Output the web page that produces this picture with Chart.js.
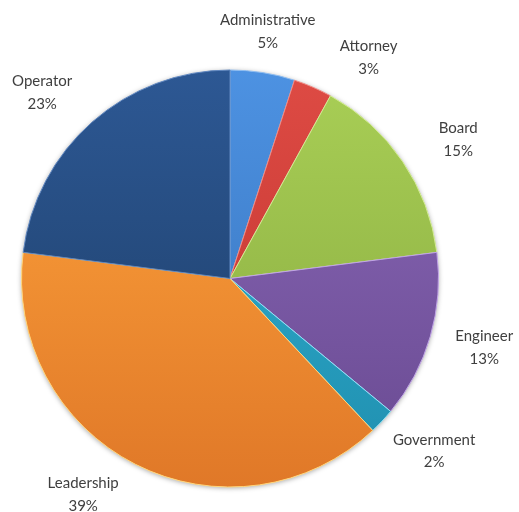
<!DOCTYPE html>
<html>
<head>
<meta charset="utf-8">
<script src="https://cdn.jsdelivr.net/npm/chart.js@4/dist/chart.umd.min.js"></script>
<style>
  html, body { margin: 0; padding: 0; background: #ffffff; }
  #wrap { width: 519px; height: 512px; }
</style>
</head>
<body>
<div id="wrap"><canvas id="c" width="519" height="512"></canvas></div>
<script>
// Share of respondents by role
const categories = ['Administrative', 'Attorney', 'Board', 'Engineer', 'Government', 'Leadership', 'Operator'];
const shares = [5, 3, 15, 13, 2, 39, 23];

// Slice shading: lighter at the top of the pie, darker toward the bottom
const topColors    = ['#4d92e2', '#de4b44', '#a9cf56', '#8b69b9', '#33b4d6', '#ffa63d', '#2d5894'];
const bottomColors = ['#3570b8', '#bd312d', '#86a83e', '#684990', '#1f8eae', '#e07828', '#1c3c64'];
const edgeColors   = ['#8fbdf0', '#f08a84', '#d3ec95', '#c0a4e6', '#8fe2f5', '#ffd57a', '#5f86bf'];

// Per-label placement tweaks: [angle shift in degrees, gap beyond the rim in px]
const labelTweaks = [[-0.3, 15], [8.7, 21], [2.9, 32], [-1, 22], [-3, 15], [7.2, 17], [-3.9, 21]];

function sliceFill(ctx) {
  const chart = ctx.chart;
  const area = chart.chartArea;
  const i = ctx.dataIndex;
  if (!area) return topColors[i];
  const g = chart.ctx.createLinearGradient(0, area.top, 0, area.bottom);
  g.addColorStop(0, topColors[i]);
  g.addColorStop(1, bottomColors[i]);
  return g;
}

// Soft drop shadow under the whole pie
const pieShadow = {
  id: 'pieShadow',
  beforeDatasetsDraw(chart) {
    const arcs = chart.getDatasetMeta(0).data;
    if (!arcs.length) return;
    const a = arcs[0];
    const c = chart.ctx;
    c.save();
    c.shadowColor = 'rgba(0,0,0,0.35)';
    c.shadowBlur = 5;
    c.shadowOffsetX = 0;
    c.shadowOffsetY = 1;
    c.fillStyle = '#ffffff';
    c.beginPath();
    c.arc(a.x, a.y, a.outerRadius, 0, Math.PI * 2);
    c.fill();
    c.restore();
  }
};

// Category name and percentage outside each slice
const outsideLabels = {
  id: 'outsideLabels',
  afterDatasetsDraw(chart) {
    const c = chart.ctx;
    const meta = chart.getDatasetMeta(0);
    const data = chart.data.datasets[0].data;
    const total = data.reduce((s, v) => s + v, 0);
    const lineGap = 22.5;
    c.save();
    c.font = '15px Lato, "Open Sans", sans-serif';
    c.fillStyle = '#3f3f3f';
    c.textAlign = 'center';
    c.textBaseline = 'middle';
    meta.data.forEach((arc, i) => {
      const name = chart.data.labels[i];
      const pct = Math.round(data[i] / total * 100) + '%';
      const tw = labelTweaks[i];
      const mid = (arc.startAngle + arc.endAngle) / 2 + tw[0] * Math.PI / 180;
      const w = Math.max(c.measureText(name).width, c.measureText(pct).width) / 2;
      const h = 19;
      const cx = Math.cos(mid), cy = Math.sin(mid);
      const d = arc.outerRadius + tw[1] + w * Math.abs(cx) + h * Math.abs(cy);
      const x = arc.x + cx * d;
      const y = arc.y + cy * d;
      c.fillText(name, x, y - lineGap / 2);
      c.fillText(pct, x, y + lineGap / 2);
    });
    c.restore();
  }
};

new Chart(document.getElementById('c'), {
  type: 'pie',
  data: {
    labels: categories,
    datasets: [{
      data: shares,
      backgroundColor: sliceFill,
      borderColor: edgeColors,
      borderWidth: 1,
      hoverOffset: 0
    }]
  },
  options: {
    responsive: false,
    animation: false,
    layout: { padding: { left: 21, right: 80, top: 69, bottom: 24 } },
    plugins: {
      legend: { display: false },
      tooltip: { enabled: false }
    }
  },
  plugins: [pieShadow, outsideLabels]
});
</script>
</body>
</html>
